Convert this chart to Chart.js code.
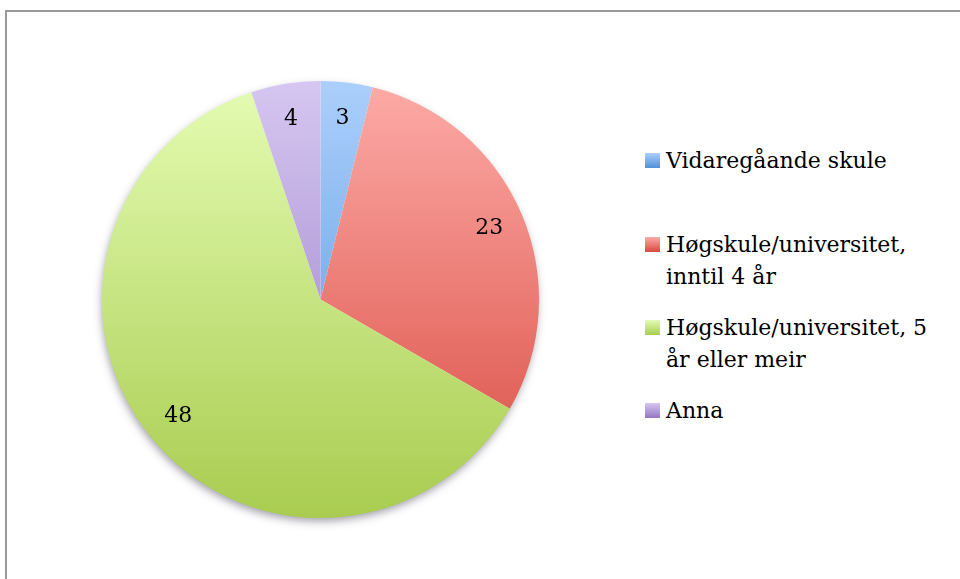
<!DOCTYPE html>
<html>
<head>
<meta charset="utf-8">
<script src="https://cdn.jsdelivr.net/npm/chart.js@4.4.1/dist/chart.umd.min.js"></script>
<style>
    body { margin: 0; background: #fff; }
    #wrap { position: relative; width: 960px; height: 579px; overflow: hidden; font-family: "DejaVu Serif", serif; }
    #frame { position: absolute; left: 5px; top: 10px; width: 1000px; height: 620px; border: 2px solid #9a9a9a; box-sizing: border-box; }
    #pieCanvasBox { position: absolute; left: 0; top: 0; width: 642px; height: 579px; }
    .legend-item { position: absolute; left: 645px; width: 290px; font-size: 22px; line-height: 32px; color: #000; }
    .legend-item .box { position: absolute; left: 0; top: 8px; width: 15px; height: 15px; }
    .legend-item .txt { margin-left: 21px; }
</style>
</head>
<body>
<div id="wrap">
    <div id="frame"></div>
    <div id="pieCanvasBox"><canvas id="educationPie"></canvas></div>
    <div id="legend"></div>
</div>
<script>
// Data
const categories = ['Vidaregåande skule', 'Høgskule/universitet, inntil 4 år', 'Høgskule/universitet, 5 år eller meir', 'Anna'];
const counts = [3, 23, 48, 4];

// top/bottom colours for the vertical shading of each slice
const topColors = ['#abcffb', '#fdaba7', '#e4fcb3', '#d6c6f1'];
const bottomColors = ['#5090dc', '#d84a40', '#a9cc50', '#9476c0'];

const legendTops = [145, 229, 312, 395];

function sliceGradient(context) {
    const chart = context.chart;
    const area = chart.chartArea;
    if (!area) return topColors[context.dataIndex];
    const g = chart.ctx.createLinearGradient(0, area.top, 0, area.bottom);
    g.addColorStop(0, topColors[context.dataIndex]);
    g.addColorStop(1, bottomColors[context.dataIndex]);
    return g;
}

// soft shadow under the whole pie (drawn once, behind the slices)
const shadowPlugin = {
    id: 'pieShadow',
    beforeDatasetsDraw(chart) {
        const c = chart.ctx;
        const arc = chart.getDatasetMeta(0).data[0];
        if (!arc) return;
        const p = arc.getProps(['x', 'y', 'outerRadius'], true);
        c.save();
        c.shadowColor = 'rgba(60, 60, 80, 0.5)';
        c.shadowBlur = 8;
        c.shadowOffsetX = -1;
        c.shadowOffsetY = 4;
        c.fillStyle = '#ffffff';
        c.beginPath();
        c.arc(p.x, p.y, p.outerRadius - 1, 0, Math.PI * 2);
        c.fill();
        c.restore();
    }
};

// value labels inside the slices
const valueLabels = {
    id: 'valueLabels',
    afterDatasetsDraw(chart) {
        const c = chart.ctx;
        const meta = chart.getDatasetMeta(0);
        c.save();
        c.font = '22px "DejaVu Serif"';
        c.fillStyle = '#000';
        c.textAlign = 'center';
        c.textBaseline = 'middle';
        meta.data.forEach((arc, i) => {
            const p = arc.getProps(['x', 'y', 'startAngle', 'endAngle', 'outerRadius'], true);
            const mid = (p.startAngle + p.endAngle) / 2;
            const r = p.outerRadius * 0.84;
            c.fillText(String(counts[i]), p.x + Math.cos(mid) * r, p.y + Math.sin(mid) * r + 1);
        });
        c.restore();
    }
};

const ctx = document.getElementById('educationPie').getContext('2d');
const educationPie = new Chart(ctx, {
    type: 'pie',
    data: {
        labels: categories,
        datasets: [{
            data: counts,
            backgroundColor: sliceGradient,
            borderWidth: 0
        }]
    },
    options: {
        responsive: true,
        maintainAspectRatio: false,
        animation: false,
        layout: { padding: { left: 102, right: 103, top: 81, bottom: 61 } },
        plugins: {
            legend: { display: false },
            tooltip: { enabled: false }
        }
    },
    plugins: [shadowPlugin, valueLabels]
});

// legend on the right
const legendBox = document.getElementById('legend');
categories.forEach((name, i) => {
    const item = document.createElement('div');
    item.className = 'legend-item';
    item.style.top = legendTops[i] + 'px';
    const box = document.createElement('div');
    box.className = 'box';
    box.style.background = 'linear-gradient(' + topColors[i] + ', ' + bottomColors[i] + ')';
    const txt = document.createElement('div');
    txt.className = 'txt';
    txt.textContent = name;
    item.appendChild(box);
    item.appendChild(txt);
    legendBox.appendChild(item);
});
</script>
</body>
</html>
